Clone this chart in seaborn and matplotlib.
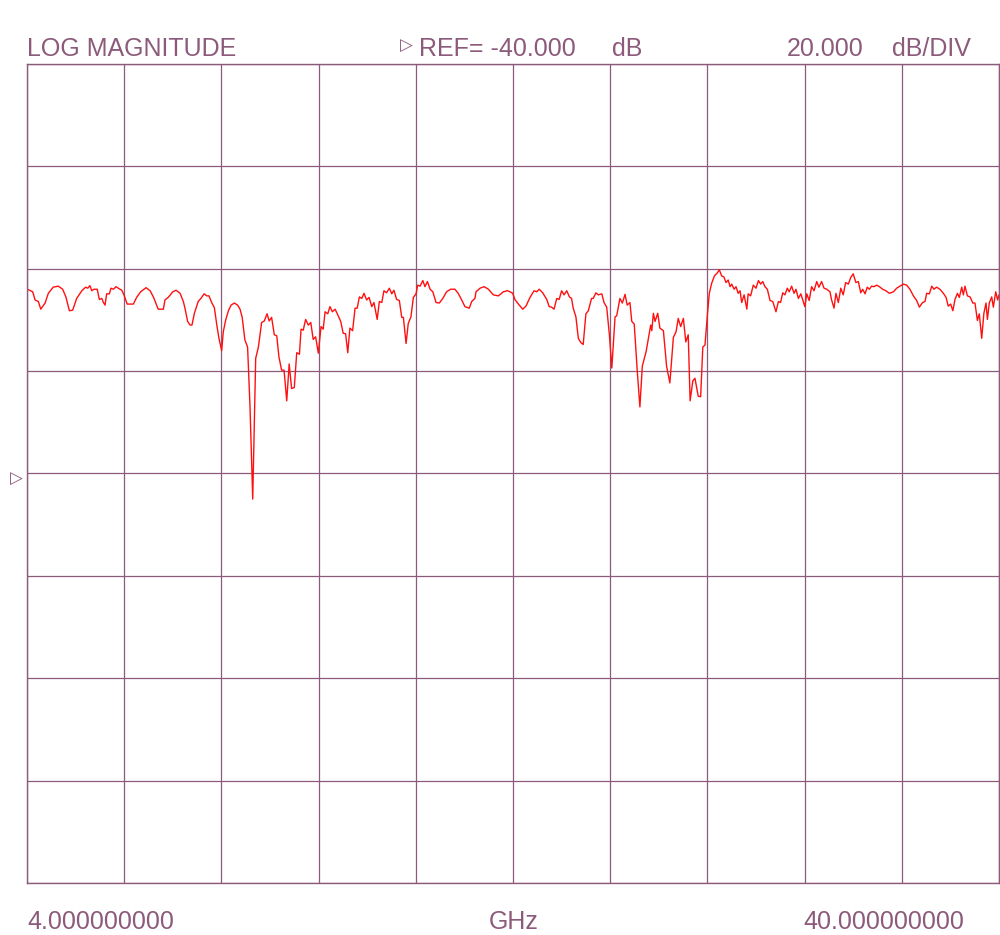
import numpy as np
import pandas as pd
import matplotlib
matplotlib.use("Agg")
import matplotlib.pyplot as plt
import seaborn as sns

# ---- data ----
freq_ghz = [
    4.01, 4.21, 4.30, 4.42, 4.51, 4.67, 4.79, 4.97, 5.16, 5.32, 5.44, 5.57, 5.69, 5.84, 6.03,
    6.17, 6.25, 6.33, 6.40, 6.48, 6.60, 6.68, 6.77, 6.83, 6.89, 6.95, 7.05, 7.11, 7.20, 7.30,
    7.38, 7.51, 7.59, 7.71, 7.81, 7.94, 8.06, 8.21, 8.41, 8.56, 8.68, 8.86, 9.05, 9.11, 9.23,
    9.40, 9.52, 9.67, 9.79,
    9.85, 9.95, 10.04, 10.11, 10.20, 10.34, 10.44, 10.56, 10.66, 10.74, 10.84, 10.94, 11.03,
    11.11, 11.21, 11.27, 11.36, 11.46, 11.56, 11.68, 11.80, 11.89, 11.97, 12.07, 12.17, 12.26,
    12.36, 12.47, 12.57, 12.69, 12.79, 12.89, 12.97, 13.06, 13.16, 13.25, 13.33, 13.43, 13.52,
    13.62, 13.71, 13.80, 13.90, 13.99, 14.09, 14.15, 14.23, 14.32, 14.42, 14.51, 14.60, 14.69,
    14.79, 14.89, 14.97, 15.04, 15.14, 15.22, 15.31, 15.41, 15.51, 15.62, 15.71, 15.80, 15.88,
    15.96, 16.06, 16.15, 16.23, 16.31, 16.40, 16.48, 16.58, 16.67, 16.77, 16.85, 16.97, 17.05,
    17.14, 17.22, 17.32, 17.42, 17.51, 17.59, 17.69, 17.79, 17.88, 17.94, 18.04, 18.12, 18.22,
    18.31, 18.41, 18.47, 18.56, 18.66, 18.74, 18.83, 18.93, 19.03, 19.15, 19.27, 19.40, 19.54,
    19.69, 19.85, 19.97, 20.10, 20.22, 20.38, 20.47, 20.59, 20.63, 20.78, 20.93, 21.09, 21.27,
    21.46, 21.64, 21.79,
    21.89, 21.99, 22.07, 22.20, 22.36, 22.48, 22.63, 22.78, 22.88, 22.97, 23.10, 23.25, 23.34,
    23.43, 23.52, 23.62, 23.71, 23.80, 23.89, 23.99, 24.09, 24.17, 24.23, 24.33, 24.42, 24.51,
    24.60, 24.70, 24.79, 24.91, 24.97, 25.07, 25.16, 25.29, 25.37, 25.47, 25.57, 25.66, 25.78,
    25.84, 25.96, 26.05, 26.15, 26.23, 26.33, 26.40, 26.49, 26.60, 26.70, 26.79, 26.93, 27.05,
    27.10, 27.14, 27.20, 27.26, 27.36, 27.44, 27.57, 27.69,
    27.81, 27.94, 28.04, 28.12, 28.21, 28.31, 28.40, 28.49, 28.56, 28.66, 28.74, 28.86, 28.95,
    29.03, 29.11, 29.20, 29.27, 29.36, 29.46, 29.57, 29.64, 29.73, 29.81, 29.89, 29.97, 30.04,
    30.10, 30.19, 30.26, 30.34, 30.41, 30.47, 30.56, 30.66, 30.71, 30.80, 30.90, 31.00, 31.09,
    31.17, 31.25, 31.33, 31.42, 31.52, 31.62, 31.74, 31.83, 31.91, 31.99, 32.07, 32.16, 32.23,
    32.32, 32.41, 32.48, 32.57, 32.66, 32.73, 32.81, 32.88, 32.97, 33.06, 33.15, 33.25, 33.33,
    33.43, 33.52, 33.62,
    33.74, 33.80, 33.89, 33.96, 34.05, 34.14, 34.23, 34.32, 34.42, 34.51, 34.60, 34.70, 34.79,
    34.88, 34.95, 35.04, 35.12, 35.20, 35.28, 35.37, 35.47, 35.57, 35.69, 35.81, 35.94, 36.09,
    36.21, 36.33, 36.46, 36.58, 36.70, 36.83, 36.95, 37.05, 37.17, 37.26, 37.32, 37.42, 37.51,
    37.59, 37.69, 37.81, 37.94, 38.04, 38.12, 38.21, 38.29, 38.37, 38.46, 38.53, 38.62, 38.68,
    38.74, 38.83, 38.93, 39.03, 39.11, 39.20, 39.27, 39.36, 39.44, 39.52, 39.57, 39.64, 39.73,
    39.79, 39.88, 39.95, 40.00,
]
mag_db = [
    -4.0, -4.5, -6.1, -6.4, -7.9, -6.7, -4.8, -3.6, -3.4, -4.0, -5.5, -8.2, -8.1, -5.8, -4.3,
    -3.6, -3.8, -3.3, -4.3, -4.0, -4.0, -6.0, -5.8, -6.6, -7.1, -4.9, -4.9, -3.8, -4.0, -3.5,
    -3.8, -4.2, -5.1, -6.9, -6.9, -6.9, -5.6, -4.5, -3.7, -4.3, -5.5, -7.9, -7.9, -6.1, -5.6,
    -4.5, -4.2, -4.8, -6.4,
    -7.7, -10.3, -11.0, -11.0, -8.7, -6.4, -5.8, -4.9, -5.3, -5.3, -6.6, -7.6, -11.0,
    -13.6, -16.0, -12.3, -10.0, -8.2, -7.1, -6.7, -7.1, -7.9, -9.5, -13.9, -15.3, -27.0,
    -45.0, -17.5, -15.3, -10.5, -10.2, -8.8, -10.2, -9.5, -12.9, -13.1, -17.2, -19.8, -19.8,
    -25.8, -18.6, -23.4, -23.2, -16.4, -16.7, -11.8, -12.0, -9.9, -11.0, -10.5, -13.8, -13.3,
    -16.5, -11.3, -11.8, -8.4, -8.8, -7.4, -8.4, -7.9, -9.0, -10.3, -12.6, -12.7, -16.4,
    -11.6, -12.1, -7.7, -7.7, -5.5, -5.8, -4.8, -6.1, -5.6, -7.4, -6.6, -9.9, -6.4,
    -6.6, -4.3, -4.7, -3.8, -4.9, -4.2, -6.0, -6.2, -9.5, -9.5, -14.6, -10.7, -9.4,
    -5.6, -4.9, -3.2, -3.4, -2.3, -3.5, -2.5, -4.0, -4.5, -6.6, -6.7, -5.8, -4.5,
    -4.0, -4.0, -4.8, -6.1, -7.4, -7.7, -6.4, -5.8, -4.5, -3.8, -3.5, -4.0, -5.1,
    -5.3, -4.5, -4.3,
    -4.5, -4.8, -6.0, -6.9, -7.9, -7.3, -5.6, -4.3, -4.5, -4.0, -4.7, -6.0, -7.4,
    -7.5, -7.9, -5.8, -6.0, -4.3, -5.1, -4.3, -5.5, -5.8, -7.7, -9.4, -13.6, -14.4,
    -14.8, -8.8, -8.2, -5.8, -5.8, -4.7, -5.1, -4.9, -6.6, -7.5, -12.9, -19.4, -9.4,
    -9.2, -5.8, -6.7, -5.0, -7.1, -6.6, -10.3, -10.8, -19.8, -27.0, -19.0, -16.2, -12.5,
    -11.0, -12.1, -8.7, -10.3, -8.7, -11.6, -12.1, -19.1,
    -22.3, -13.4, -12.3, -9.7, -11.3, -9.7, -14.3, -12.9, -25.8, -21.9, -21.4, -24.9, -25.0,
    -15.3, -14.9, -9.0, -4.8, -2.8, -1.4, -0.8, -0.2, -1.4, -1.6, -2.7, -2.2, -3.5,
    -3.0, -4.0, -3.5, -4.8, -4.3, -6.6, -5.1, -7.9, -4.9, -5.3, -3.2, -3.8, -2.3,
    -3.0, -2.5, -3.5, -4.0, -6.2, -6.4, -8.4, -6.4, -6.6, -4.7, -5.1, -3.8, -4.5,
    -3.4, -4.8, -4.0, -5.8, -4.9, -6.1, -7.4, -4.9, -6.2, -3.5, -4.3, -2.5, -3.6,
    -2.5, -3.8, -4.0,
    -4.5, -6.1, -7.7, -4.8, -6.6, -3.8, -5.1, -2.7, -3.0, -1.7, -1.0, -2.7, -2.5,
    -4.7, -4.0, -4.9, -3.6, -4.0, -3.4, -3.5, -3.2, -3.5, -4.0, -4.3, -4.8, -4.5,
    -3.8, -3.4, -3.0, -3.2, -4.0, -5.3, -6.2, -7.5, -6.6, -6.4, -4.8, -4.9, -3.4,
    -4.0, -3.6, -4.0, -4.8, -5.6, -7.3, -6.9, -8.2, -6.0, -4.8, -5.6, -3.6, -5.1,
    -3.4, -5.3, -5.5, -6.7, -6.7, -10.1, -8.8, -13.6, -8.7, -6.7, -9.9, -6.7, -5.5,
    -7.5, -4.5, -6.1, -5.1,
]

header_labels = ["LOG MAGNITUDE", "REF= -40.000", "dB", "20.000", "dB/DIV"]
footer_labels = ["4.000000000", "GHz", "40.000000000"]
x_start, x_stop = 4.0, 40.0
ref_db, db_per_div = -40.0, 20.0
n_xdiv, n_ydiv = 10, 8

df = pd.DataFrame({"freq": freq_ghz, "mag": mag_db})

# ---- styling ----
sns.set_theme(style="white")
plt.rcParams["font.family"] = ["Liberation Sans", "DejaVu Sans"]
mauve = "#8c5a7a"

fig = plt.figure(figsize=(10, 9.35), dpi=100)
ax = fig.add_axes([0.027, 52 / 935, 0.972, 819 / 935])

sns.lineplot(data=df, x="freq", y="mag", ax=ax, color="#ff1010", linewidth=1.0,
             estimator=None, sort=False)

top = ref_db + db_per_div * n_ydiv / 2
bottom = ref_db - db_per_div * n_ydiv / 2
ax.set_xlim(x_start, x_stop)
ax.set_ylim(bottom, top)
ax.set_xticks(np.linspace(x_start, x_stop, n_xdiv + 1))
ax.set_yticks(np.linspace(bottom, top, n_ydiv + 1))
ax.tick_params(length=0, labelbottom=False, labelleft=False)
ax.grid(True, color=mauve, linewidth=0.9)
ax.set_xlabel("")
ax.set_ylabel("")
for s in ax.spines.values():
    s.set_color(mauve)
    s.set_linewidth(1.0)

fs = 18
ty = 1 - 56 / 935
fig.text(0.027, ty, header_labels[0], color=mauve, fontsize=fs, va="baseline", ha="left")
fig.text(0.400, 1 - 46 / 935, "▷", color=mauve, fontsize=12, va="center", ha="left",
         family=["DejaVu Sans"])
fig.text(0.419, ty, header_labels[1], color=mauve, fontsize=fs, va="baseline", ha="left")
fig.text(0.612, ty, header_labels[2], color=mauve, fontsize=fs, va="baseline", ha="left")
fig.text(0.787, ty, header_labels[3], color=mauve, fontsize=fs, va="baseline", ha="left")
fig.text(0.892, ty, header_labels[4], color=mauve, fontsize=fs, va="baseline", ha="left")

by = 1 - 929 / 935
fig.text(0.027, by, footer_labels[0], color=mauve, fontsize=fs, va="baseline", ha="left")
fig.text(0.514, by, footer_labels[1], color=mauve, fontsize=fs, va="baseline", ha="center")
fig.text(0.964, by, footer_labels[2], color=mauve, fontsize=fs, va="baseline", ha="right")

# reference marker at the left
fig.text(0.010, 1 - 479 / 935, "▷", color=mauve, fontsize=12, va="center", ha="left",
         family=["DejaVu Sans"])

fig.savefig("out.png", dpi=100, facecolor="white")
